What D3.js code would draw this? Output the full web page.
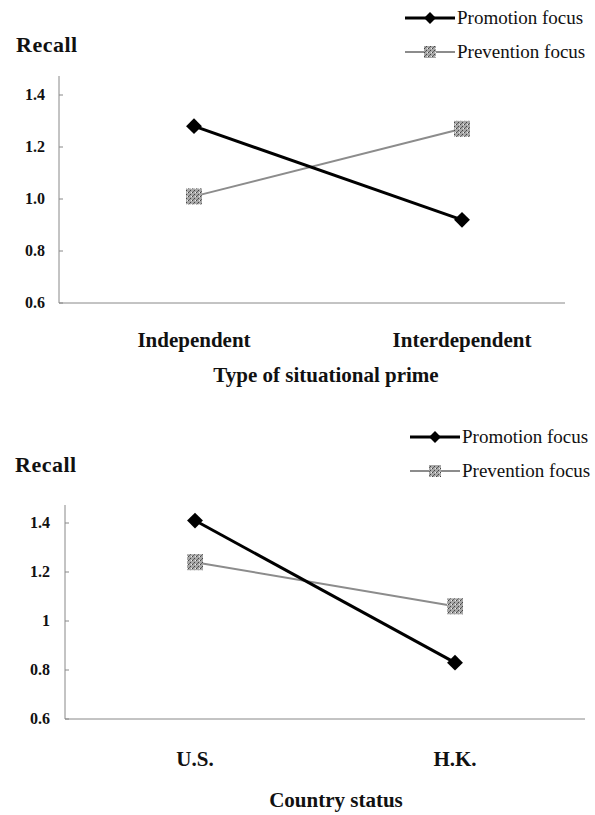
<!DOCTYPE html>
<html>
<head>
<meta charset="utf-8">
<script src="https://cdn.jsdelivr.net/npm/d3@7"></script>
<style>
  body { margin: 0; background: #fff; }
  svg { display: block; }
  text { font-family: "Liberation Serif", "Times New Roman", serif; fill: #111; }
  .bold { font-weight: bold; }
</style>
</head>
<body>
<div id="chart"></div>
<script>

// data
const seriesNames = ['Promotion focus', 'Prevention focus'];

const primeCategories = ['Independent', 'Interdependent'];
const primePromotion = [1.28, 0.92];
const primePrevention = [1.01, 1.27];

const countryCategories = ['U.S.', 'H.K.'];
const countryPromotion = [1.41, 0.83];
const countryPrevention = [1.24, 1.06];

const yTickValues = [0.6, 0.8, 1.0, 1.2, 1.4];
const primeTickLabels = ['0.6', '0.8', '1.0', '1.2', '1.4'];
const countryTickLabels = ['0.6', '0.8', '1', '1.2', '1.4'];

const W = 595, H = 815;

const svg = d3.select('#chart').append('svg')
    .attr('width', W)
    .attr('height', H);

// grey dither-ish fill for the square markers
const defs = svg.append('defs');
const pat = defs.append('pattern')
    .attr('id', 'dither')
    .attr('width', 4).attr('height', 4)
    .attr('patternUnits', 'userSpaceOnUse');
pat.append('rect').attr('width', 4).attr('height', 4).attr('fill', '#a8a8a8');
pat.append('rect').attr('x', 0).attr('y', 0).attr('width', 1).attr('height', 1).attr('fill', '#444');
pat.append('rect').attr('x', 2).attr('y', 2).attr('width', 1).attr('height', 1).attr('fill', '#444');
pat.append('rect').attr('x', 3).attr('y', 0).attr('width', 1).attr('height', 1).attr('fill', '#eee');
pat.append('rect').attr('x', 1).attr('y', 3).attr('width', 1).attr('height', 1).attr('fill', '#666');

drawPanel({
    axisLeft: 59, axisRight: 565,
    pointRange: [194, 462],
    yRange: [303, 95], axisTop: 76,
    categories: primeCategories,
    promotion: primePromotion,
    prevention: primePrevention,
    tickLabels: primeTickLabels,
    tickLabelX: 45,
    recallX: 16, recallY: 52,
    legendX: 405, legendY: [18, 52],
    catY: 347,
    title: 'Type of situational prime', titleX: 326, titleY: 382
});

drawPanel({
    axisLeft: 65, axisRight: 585,
    pointRange: [195, 455],
    yRange: [719, 523], axisTop: 505,
    categories: countryCategories,
    promotion: countryPromotion,
    prevention: countryPrevention,
    tickLabels: countryTickLabels,
    tickLabelX: 50,
    recallX: 15, recallY: 472,
    legendX: 410, legendY: [437, 471],
    catY: 766,
    title: 'Country status', titleX: 336, titleY: 807
});

function drawPanel(c) {

    const g = svg.append('g');

    const x = d3.scalePoint()
        .domain(c.categories)
        .range(c.pointRange);

    const y = d3.scaleLinear()
        .domain([0.6, 1.4])
        .range(c.yRange);

    // y axis (ticks point inward, labels placed separately)
    g.append('line')
        .attr('x1', c.axisLeft).attr('x2', c.axisLeft)
        .attr('y1', c.axisTop).attr('y2', y(0.6))
        .attr('stroke', '#888').attr('stroke-width', 1);

    g.selectAll('.ytick')
        .data(yTickValues)
        .enter().append('line')
        .attr('class', 'ytick')
        .attr('x1', c.axisLeft).attr('x2', c.axisLeft + 4)
        .attr('y1', d => y(d)).attr('y2', d => y(d))
        .attr('stroke', '#888');

    g.selectAll('.ylab')
        .data(yTickValues)
        .enter().append('text')
        .attr('class', 'ylab bold')
        .attr('x', c.tickLabelX)
        .attr('y', d => y(d) + 5)
        .attr('text-anchor', 'end')
        .style('font-size', '16px')
        .text((d, i) => c.tickLabels[i]);

    // x axis
    g.append('line')
        .attr('x1', c.axisLeft).attr('x2', c.axisRight)
        .attr('y1', y(0.6)).attr('y2', y(0.6))
        .attr('stroke', '#888').attr('stroke-width', 1);

    g.selectAll('.xlab')
        .data(c.categories)
        .enter().append('text')
        .attr('class', 'xlab bold')
        .attr('x', d => x(d))
        .attr('y', c.catY)
        .attr('text-anchor', 'middle')
        .style('font-size', '21px')
        .text(d => d);

    g.append('text')
        .attr('class', 'bold')
        .attr('x', c.titleX).attr('y', c.titleY)
        .attr('text-anchor', 'middle')
        .style('font-size', '21px')
        .text(c.title);

    g.append('text')
        .attr('class', 'bold')
        .attr('x', c.recallX).attr('y', c.recallY)
        .style('font-size', '22px')
        .style('letter-spacing', '0.5px')
        .text('Recall');

    // series
    const line = d3.line()
        .x((d, i) => x(c.categories[i]))
        .y(d => y(d));

    g.append('path')
        .datum(c.prevention)
        .attr('d', line)
        .attr('fill', 'none')
        .attr('stroke', '#8c8c8c')
        .attr('stroke-width', 2);

    g.append('path')
        .datum(c.promotion)
        .attr('d', line)
        .attr('fill', 'none')
        .attr('stroke', '#000')
        .attr('stroke-width', 3);

    g.selectAll('.sq')
        .data(c.prevention)
        .enter().append('rect')
        .attr('class', 'sq')
        .attr('x', (d, i) => x(c.categories[i]) - 8)
        .attr('y', d => y(d) - 8)
        .attr('width', 16).attr('height', 16)
        .attr('fill', 'url(#dither)');

    g.selectAll('.dm')
        .data(c.promotion)
        .enter().append('path')
        .attr('class', 'dm')
        .attr('d', d3.symbol(d3.symbolDiamond2, 160))
        .attr('transform', (d, i) => 'translate(' + x(c.categories[i]) + ',' + y(d) + ')')
        .attr('fill', '#000');

    // legend
    const lw = 50;
    const leg = g.append('g');

    leg.append('line')
        .attr('x1', c.legendX).attr('x2', c.legendX + lw)
        .attr('y1', c.legendY[0]).attr('y2', c.legendY[0])
        .attr('stroke', '#000').attr('stroke-width', 3);
    leg.append('path')
        .attr('d', d3.symbol(d3.symbolDiamond2, 90))
        .attr('transform', 'translate(' + (c.legendX + lw / 2) + ',' + c.legendY[0] + ')')
        .attr('fill', '#000');

    leg.append('line')
        .attr('x1', c.legendX).attr('x2', c.legendX + lw)
        .attr('y1', c.legendY[1]).attr('y2', c.legendY[1])
        .attr('stroke', '#8c8c8c').attr('stroke-width', 2);
    leg.append('rect')
        .attr('x', c.legendX + lw / 2 - 6).attr('y', c.legendY[1] - 6)
        .attr('width', 12).attr('height', 12)
        .attr('fill', 'url(#dither)');

    leg.selectAll('.legtext')
        .data(seriesNames)
        .enter().append('text')
        .attr('class', 'legtext')
        .attr('x', c.legendX + lw + 2)
        .attr('y', (d, i) => c.legendY[i] + 6)
        .style('font-size', '19px')
        .text(d => d);
}

</script>
</body>
</html>
